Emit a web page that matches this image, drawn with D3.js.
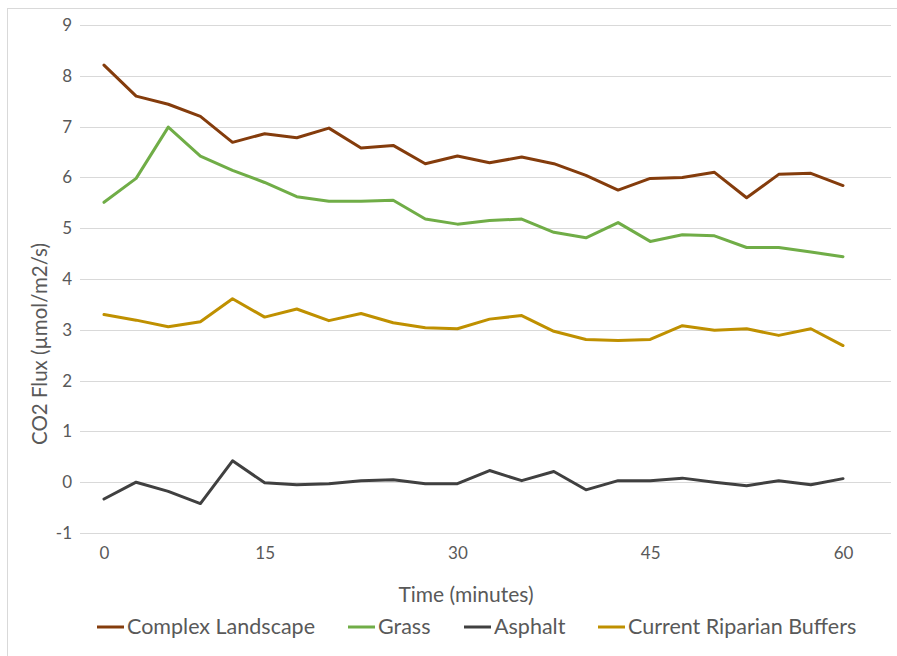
<!DOCTYPE html>
<html>
<head>
<meta charset="utf-8">
<script src="https://cdn.jsdelivr.net/npm/d3@7"></script>
<style>
  body { margin: 0; background: #fff; }
  text { font-family: Lato, "Open Sans", sans-serif; fill: #595959; }
</style>
</head>
<body>
<script>
// 24 readings over the hour, plotted as evenly spaced categories
var samples = ["s1", "s2", "s3", "s4", "s5", "s6", "s7", "s8", "s9", "s10", "s11", "s12",
               "s13", "s14", "s15", "s16", "s17", "s18", "s19", "s20", "s21", "s22", "s23", "s24"];
// which samples carry a time label, and the label
var tickSamples = ["s1", "s6", "s12", "s18", "s24"];
var tickLabels = ["0", "15", "30", "45", "60"];

var complexLandscape = [8.21, 7.6, 7.44, 7.2, 6.69, 6.86, 6.78, 6.97, 6.58, 6.63, 6.27, 6.42,
                        6.29, 6.4, 6.27, 6.04, 5.75, 5.98, 6.0, 6.1, 5.6, 6.06, 6.08, 5.84];
var grass = [5.51, 5.98, 6.99, 6.42, 6.14, 5.9, 5.62, 5.53, 5.53, 5.55, 5.18, 5.08,
             5.15, 5.18, 4.92, 4.81, 5.11, 4.74, 4.87, 4.85, 4.62, 4.62, 4.53, 4.44];
var asphalt = [-0.33, 0.0, -0.18, -0.42, 0.42, -0.01, -0.05, -0.03, 0.03, 0.05, -0.03, -0.03,
               0.23, 0.03, 0.21, -0.15, 0.03, 0.03, 0.08, 0.0, -0.07, 0.03, -0.05, 0.07];
var riparian = [3.3, 3.19, 3.06, 3.16, 3.61, 3.25, 3.41, 3.18, 3.32, 3.14, 3.04, 3.02,
                3.21, 3.28, 2.97, 2.81, 2.79, 2.81, 3.08, 2.99, 3.02, 2.89, 3.02, 2.69];

var seriesNames = ["Complex Landscape", "Grass", "Asphalt", "Current Riparian Buffers"];
var seriesColors = ["#843C0C", "#70AD47", "#404040", "#BF9000"];
var yTicks = [-1, 0, 1, 2, 3, 4, 5, 6, 7, 8, 9];

var W = 897, H = 656;
var plotLeft = 80, plotRight = 891;

var svg = d3.select("body").append("svg")
    .attr("width", W)
    .attr("height", H);

// outer chart border
svg.append("rect")
    .attr("x", 7.5).attr("y", 8.5)
    .attr("width", W + 10).attr("height", H + 10)
    .attr("fill", "none")
    .attr("stroke", "#d9d9d9");

var x = d3.scalePoint().domain(samples).range([104, 843]);
var y = d3.scaleLinear().domain([-1, 9]).range([533, 25]);

// horizontal gridlines
svg.append("g")
    .selectAll("line")
    .data(yTicks)
    .enter().append("line")
    .attr("x1", plotLeft).attr("x2", plotRight)
    .attr("y1", function (d) { return Math.round(y(d)) + 0.5; })
    .attr("y2", function (d) { return Math.round(y(d)) + 0.5; })
    .attr("stroke", "#d9d9d9")
    .attr("stroke-width", 1);

// y axis labels
var yAxis = svg.append("g")
    .attr("transform", "translate(" + plotLeft + ",0)")
    .call(d3.axisLeft(y).tickValues(yTicks).tickSize(0).tickPadding(8)
        .tickFormat(function (d) { return String(d); }));
yAxis.select(".domain").remove();
yAxis.selectAll("text").style("font-size", "17px").attr("fill", "#595959")
    .style("font-family", "Lato, sans-serif");

// x axis labels
var xAxis = svg.append("g")
    .attr("transform", "translate(0," + 547 + ")")
    .call(d3.axisBottom(x).tickValues(tickSamples).tickSize(0).tickPadding(0)
        .tickFormat(function (d) { return tickLabels[tickSamples.indexOf(d)]; }));
xAxis.select(".domain").remove();
xAxis.selectAll("text").style("font-size", "17px").attr("fill", "#595959")
    .style("font-family", "Lato, sans-serif");

// axis titles
svg.append("text")
    .attr("x", 466).attr("y", 602)
    .attr("text-anchor", "middle")
    .style("font-size", "21px")
    .text("Time (minutes)");

svg.append("text")
    .attr("transform", "translate(47,344) rotate(-90)")
    .attr("text-anchor", "middle")
    .style("font-size", "20.5px")
    .text("CO2 Flux (µmol/m2/s)");

// lines
var allSeries = [complexLandscape, grass, asphalt, riparian];
var line = d3.line()
    .x(function (d, i) { return x(samples[i]); })
    .y(function (d) { return y(d); });

svg.append("g")
    .selectAll("path")
    .data(allSeries)
    .enter().append("path")
    .attr("d", line)
    .attr("fill", "none")
    .attr("stroke", function (d, i) { return seriesColors[i]; })
    .attr("stroke-width", 3)
    .attr("stroke-linejoin", "round")
    .attr("stroke-linecap", "round");

// legend
var legendX = [97, 348, 464, 598];
var legend = svg.append("g")
    .selectAll("g")
    .data(seriesNames)
    .enter().append("g")
    .attr("transform", function (d, i) { return "translate(" + legendX[i] + ",627)"; });

legend.append("line")
    .attr("x1", 0).attr("x2", 27)
    .attr("y1", 0).attr("y2", 0)
    .attr("stroke", function (d, i) { return seriesColors[i]; })
    .attr("stroke-width", 3);

legend.append("text")
    .attr("x", 30).attr("y", 7)
    .style("font-size", "21.5px")
    .text(function (d) { return d; });
</script>
</body>
</html>
